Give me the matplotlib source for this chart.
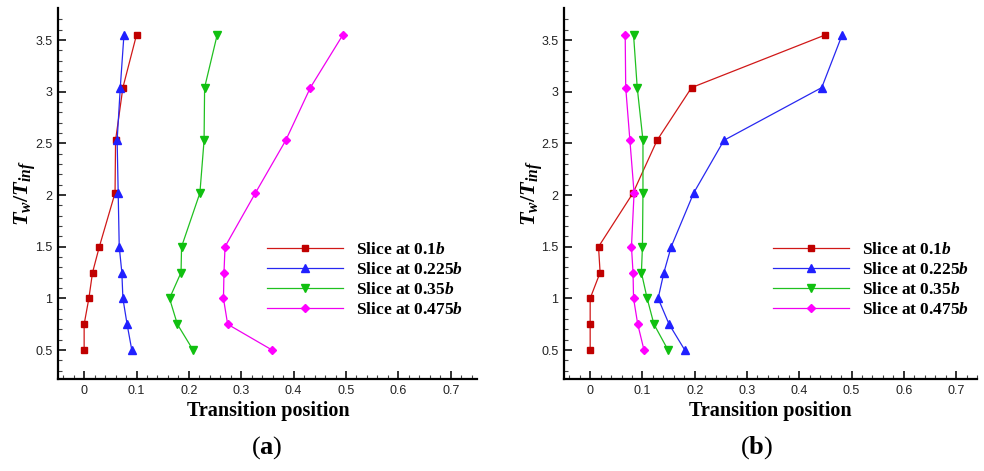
import matplotlib
matplotlib.use("Agg")
import matplotlib.pyplot as plt

# T_w / T_inf levels (y) shared by all curves
tw_ratio = [0.5, 0.75, 1.0, 1.25, 1.5, 2.02, 2.53, 3.04, 3.55]

labels = [r"Slice at 0.1$b$", r"Slice at 0.225$b$",
          r"Slice at 0.35$b$", r"Slice at 0.475$b$"]

# panel (a): transition position per slice
a_01 = [0.0, 0.0, 0.009, 0.016, 0.029, 0.059, 0.060, 0.074, 0.100]
a_0225 = [0.091, 0.082, 0.074, 0.072, 0.067, 0.065, 0.063, 0.069, 0.076]
a_035 = [0.208, 0.178, 0.163, 0.185, 0.186, 0.221, 0.229, 0.230, 0.254]
a_0475 = [0.359, 0.274, 0.266, 0.267, 0.269, 0.327, 0.385, 0.432, 0.494]

# panel (b)
b_01 = [0.0, 0.0, 0.0, 0.019, 0.016, 0.082, 0.128, 0.194, 0.450]
b_0225 = [0.181, 0.151, 0.130, 0.141, 0.155, 0.198, 0.256, 0.443, 0.482]
b_035 = [0.149, 0.122, 0.109, 0.098, 0.100, 0.101, 0.101, 0.090, 0.083]
b_0475 = [0.103, 0.091, 0.083, 0.082, 0.079, 0.084, 0.076, 0.068, 0.067]

colors = ["#d01818", "#2828f0", "#20c020", "#f000f0"]
mcolors = ["#c00000", "#2020ff", "#10c010", "#ff00ff"]
markers = ["s", "^", "v", "D"]
msizes = [4.5, 5.5, 5.5, 4.5]

plt.rcParams["mathtext.fontset"] = "custom"
plt.rcParams["mathtext.rm"] = "Liberation Serif:bold"
plt.rcParams["mathtext.it"] = "Liberation Serif:italic:bold"
plt.rcParams["mathtext.bf"] = "Liberation Serif:bold"

fig = plt.figure(figsize=(9.84, 4.71), dpi=100)
ax1 = fig.add_axes([0.0589, 0.1953, 0.4258, 0.7877])
ax2 = fig.add_axes([0.5732, 0.1953, 0.4197, 0.7877])


def draw(ax, series, xmax, leg_x):
    for i, xs in enumerate(series):
        ax.plot(xs, tw_ratio, color=colors[i], lw=0.9, marker=markers[i],
                ms=msizes[i], mfc=mcolors[i], mec=mcolors[i], label=labels[i])
    ax.set_xlim(-0.05, xmax)
    ax.set_ylim(0.22, 3.81)
    ax.set_xticks([0, 0.1, 0.2, 0.3, 0.4, 0.5, 0.6, 0.7])
    ax.set_xticklabels(["0", "0.1", "0.2", "0.3", "0.4", "0.5", "0.6", "0.7"])
    ax.set_yticks([0.5, 1, 1.5, 2, 2.5, 3, 3.5])
    ax.set_yticklabels(["0.5", "1", "1.5", "2", "2.5", "3", "3.5"])
    ax.set_xticks([i * 0.02 for i in range(-2, 38)], minor=True)
    ax.set_yticks([0.3 + i * 0.1 for i in range(35)], minor=True)
    for s in ["top", "right"]:
        ax.spines[s].set_visible(False)
    for s in ["left", "bottom"]:
        ax.spines[s].set_linewidth(1.6)
    ax.tick_params(which="major", direction="in", length=6, width=1.3,
                   labelsize=9, colors="#222222", pad=4)
    ax.tick_params(which="minor", direction="in", length=3, width=0.8,
                   color="#444444")
    for t in ax.get_xticklabels() + ax.get_yticklabels():
        t.set_family("Liberation Sans")
    ax.legend(loc="upper left", bbox_to_anchor=(leg_x, 0.487),
              bbox_transform=fig.transFigure, frameon=False,
              prop={"family": "Liberation Serif", "weight": "bold", "size": 12.5},
              handlelength=4.4, handletextpad=0.75, labelspacing=0.22,
              borderpad=0, borderaxespad=0)


draw(ax1, [a_01, a_0225, a_035, a_0475], 0.75, 0.2713)
draw(ax2, [b_01, b_0225, b_035, b_0475], 0.735, 0.7856)

for xc in [25 / 984, 532 / 984]:
    fig.text(xc, 1 - 193 / 471, r"$T_w/T_{inf}$", rotation=90,
             ha="center", va="center", fontsize=16)

for xc in [268 / 984, 770 / 984]:
    fig.text(xc, 1 - 411 / 471, "Transition position", ha="center",
             va="center", fontsize=14.5, family="Liberation Serif",
             weight="bold")

fig.text(267 / 984, 1 - 448 / 471, r"($\mathbf{a}$)", ha="center",
         va="center", fontsize=19, family="Liberation Serif")
fig.text(757 / 984, 1 - 448 / 471, r"($\mathbf{b}$)", ha="center",
         va="center", fontsize=19, family="Liberation Serif")

fig.savefig("out.png", dpi=100)
